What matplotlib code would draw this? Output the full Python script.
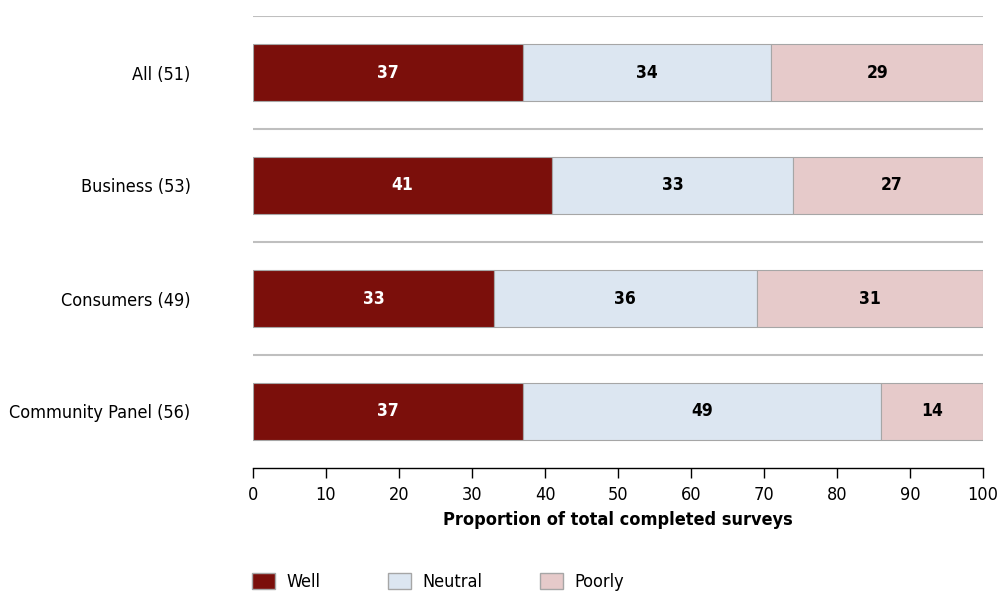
import matplotlib
matplotlib.use("Agg")
import matplotlib.pyplot as plt
from matplotlib.patches import Patch

categories = ["All (51)", "Business (53)", "Consumers (49)", "Community Panel (56)"]
well = [37, 41, 33, 37]
neutral = [34, 33, 36, 49]
poorly = [29, 27, 31, 14]
series_names = ["Well", "Neutral", "Poorly"]
colors = ["#7B0F0B", "#DCE6F1", "#E6CACA"]
label_colors = ["white", "black", "black"]
xticks = list(range(0, 101, 10))

plt.rcParams['font.family'] = ['DejaVu Sans']
plt.rcParams['font.stretch'] = 'condensed'
fig = plt.figure(figsize=(10.01, 5.91), dpi=100)
ax = fig.add_axes([253/1001, 1-468/591, 730/1001, 452/591])

n = len(categories)
ypos = list(range(n))
lefts = [0]*n
for vals, col, tc in zip([well, neutral, poorly], colors, label_colors):
    bars = ax.barh(ypos, vals, left=lefts, height=0.5, color=col,
                   edgecolor="#A6A6A6", linewidth=0.8, zorder=3)
    for b, v in zip(bars, vals):
        ax.text(b.get_x()+b.get_width()/2, b.get_y()+b.get_height()/2, str(v),
                ha="center", va="center", color=tc, fontsize=12.5,
                fontweight="bold", fontstretch="condensed", zorder=4)
    lefts = [l+v for l, v in zip(lefts, vals)]

ax.set_ylim(n-0.5, -0.5)
ax.set_xlim(0, 100)
for yb in [i-0.5 for i in range(n+1)][:-1]:
    ax.axhline(yb, color="#BFBFBF", linewidth=1.5, zorder=1)
ax.set_yticks(ypos)
ax.set_yticklabels(categories, fontsize=13, fontstretch="condensed")
ax.tick_params(axis="y", length=0, pad=45)
ax.set_xticks(xticks)
ax.set_xticklabels([str(t) for t in xticks], fontsize=13, fontstretch="condensed")
ax.tick_params(axis="x", length=7, width=1, pad=6)
for s in ["top", "right", "left"]:
    ax.spines[s].set_visible(False)
ax.spines["bottom"].set_linewidth(1)
ax.set_xlabel("Proportion of total completed surveys", fontsize=13,
              fontweight="bold", fontstretch="condensed", labelpad=5)

xs = [252, 388, 540]
for c, l, x in zip(colors, series_names, xs):
    h = Patch(facecolor=c, edgecolor="#A6A6A6", label=l)
    fig.legend(handles=[h], loc="center left", bbox_to_anchor=(x/1001, 1-582/591),
               frameon=False, fontsize=13, handlelength=1.3, handleheight=1.0,
               handletextpad=0.6, borderpad=0, borderaxespad=0,
               prop={'size': 13, 'stretch': 'condensed'})

fig.savefig("out.png", dpi=100)
